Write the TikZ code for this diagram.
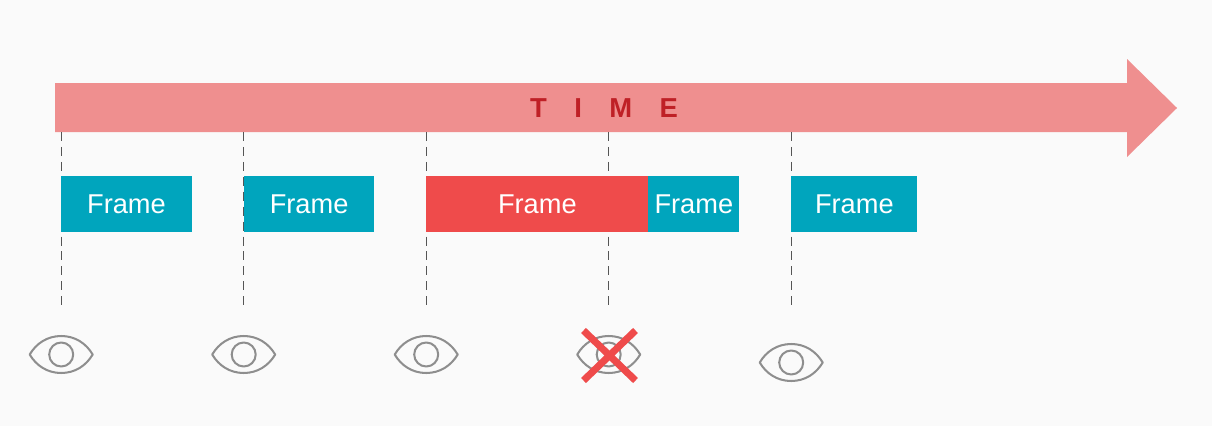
\documentclass[tikz,border=0pt]{standalone}
\usepackage{fontspec}
\usepackage{xcolor}
\setmainfont{Liberation Sans}
\usetikzlibrary{positioning}
\definecolor{Paper}{HTML}{FAFAFA}
\definecolor{Salmon}{HTML}{EF8F8F}
\definecolor{DarkRed}{HTML}{BF2026}
\definecolor{Teal}{HTML}{00A5BD}
\definecolor{Red}{HTML}{EF4B4B}
\definecolor{Dash}{HTML}{555555}
\definecolor{EyeGray}{HTML}{8E8E8E}
\tikzset{
  frame/.style={fill=#1,text=white,anchor=west,minimum height=1.12cm,inner sep=0pt,font=\fontsize{15.5}{18}\selectfont},
  eyeline/.style={EyeGray,line width=1.15pt,line join=round},
  tick/.style={Dash,line width=0.6pt,dash pattern=on 5.1pt off 3.4pt}
}

\begin{document}
\begin{tikzpicture}[x=0.02cm,y=-0.02cm]
  \fill[Paper] (0,0) rectangle (1212,426);
  \useasboundingbox (0,0) rectangle (1212,426);
  \fill[Salmon] (55,83) -- (1127,83) -- (1127,59) -- (1177,108) -- (1127,157) -- (1127,132) -- (55,132) -- cycle;
  \node[DarkRed,font=\fontsize{15.6}{18}\selectfont\bfseries] (time) at (604,108.5) {T\hspace{1em}I\hspace{1em}M\hspace{1em}E};
  \foreach \i/\x in {1/61.2,2/243.7,3/426.2,4/608.7,5/791.2} {
    \coordinate (top\i) at (\x,132);
    \coordinate (bot\i) at (\x,305);
    \draw[tick] (top\i) -- (bot\i);
  }
  \foreach \i/\x/\w/\c in {1/61/130.2/Teal,2/243.5/130.5/Teal,3/426/222/Red,4/648/91/Teal,5/791/126/Teal} {
    \node[frame=\c,minimum width=\w*0.02cm] (frame\i) at (\x,204) {\raisebox{-0.8pt}{Frame}};
  }
  \foreach \x/\y in {61.2/354.5,243.7/354.5,426.2/354.5,608.7/354.5,791.2/362.5} {
    \draw[eyeline,shift={(\x,\y)}] (-31.5,0) .. controls (-25,-11) and (-14,-18.5) .. (0,-18.5) .. controls (14,-18.5) and (25,-11) .. (31.5,0) .. controls (25,11) and (14,18.5) .. (0,18.5) .. controls (-14,18.5) and (-25,11) .. (-31.5,0) -- cycle;
    \draw[eyeline,shift={(\x,\y)}] (0,0) circle (12);
  }
  \draw[Red,line width=4pt] (583.5,330.5) -- (635.5,380.5);
  \draw[Red,line width=4pt] (635.5,330.5) -- (583.5,380.5);
\end{tikzpicture}
\end{document}
